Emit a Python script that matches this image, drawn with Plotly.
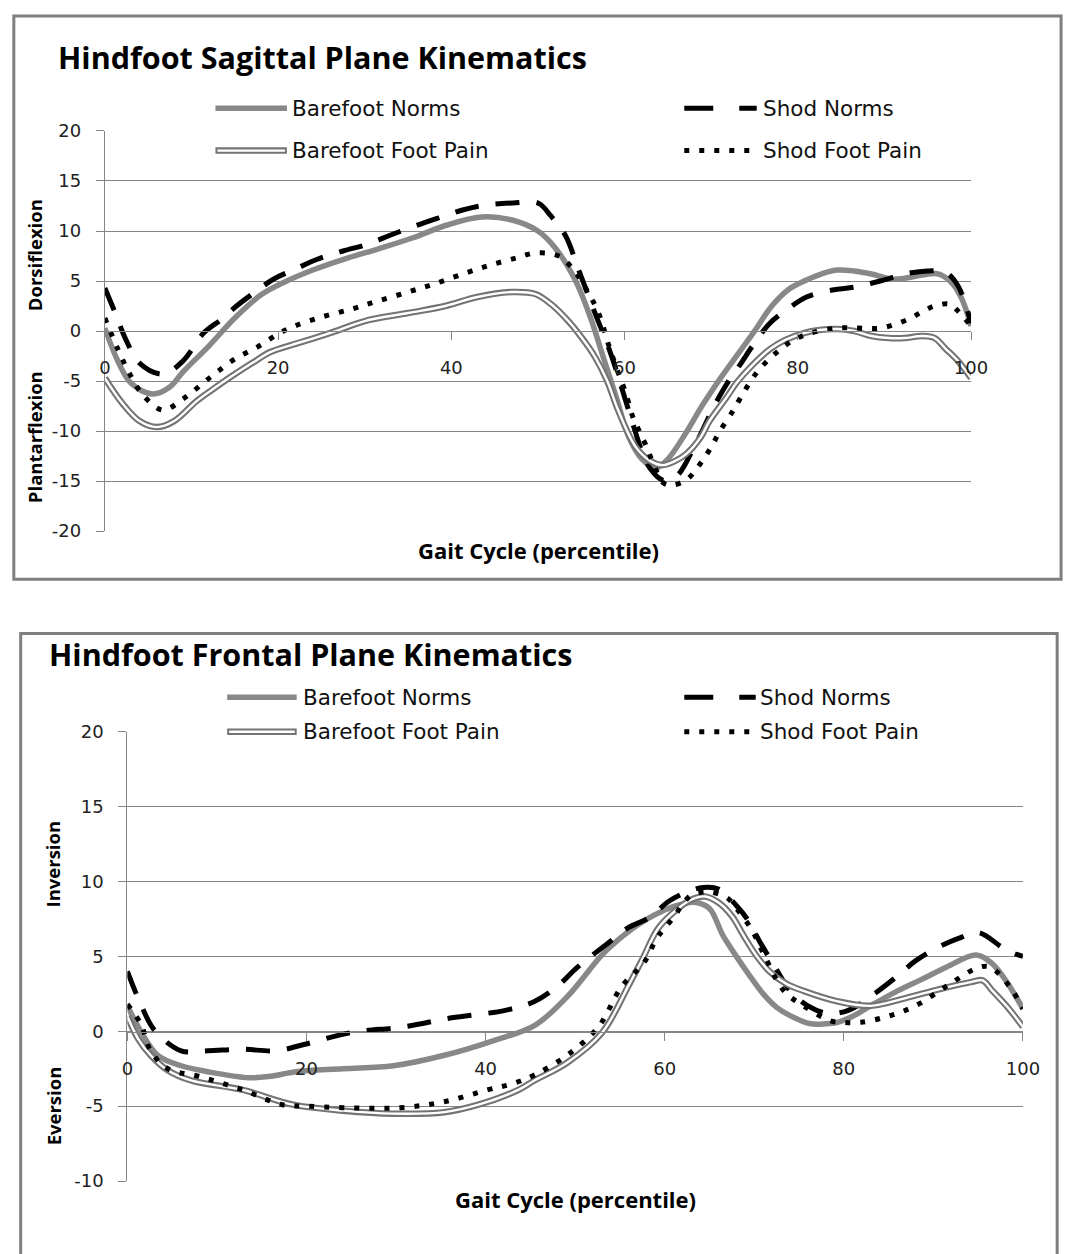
import plotly.graph_objects as go

W, H = 1082, 1254

# ---------------- data : Hindfoot Sagittal Plane ----------------
sag_bn_x = [0, 1.5, 3, 5.5, 7.5, 9, 12, 15, 18, 21, 24, 28, 31.5, 35.5, 39.5, 43.5, 47, 50, 52,
            54.3, 56, 57.5, 59, 60.5, 62, 63.6, 65, 67, 69, 71, 73, 75, 77, 79, 81, 83, 84.6,
            86.5, 88.5, 90.8, 92.5, 94.4, 96.3, 97.9, 99, 100]
sag_bn_y = [0.3, -3.0, -5.2, -6.3, -5.6, -4.1, -1.5, 1.3, 3.6, 5.0, 6.1, 7.3, 8.2, 9.3, 10.6, 11.4,
            11.1, 10.0, 8.3, 5.1, 1.5, -2.5, -6.5, -10.6, -12.8, -13.7, -12.8, -10.3, -7.4, -4.8,
            -2.4, 0.0, 2.5, 4.2, 5.1, 5.8, 6.1, 6.0, 5.7, 5.2, 5.3, 5.6, 5.7, 4.7, 3.1, 0.5]

sag_sn_x = [0, 1.2, 2.4, 4, 6.7, 9, 11.4, 13.5, 15.2, 17.5, 19.5, 22, 24.6, 27.5, 30.4, 33, 35.8,
            38.5, 41.3, 44, 47.1, 50, 51.5, 53.2, 54.7, 56.5, 58.5, 60.5, 62, 63, 64.4, 66, 68.2,
            70.4, 72, 73.3, 75, 76.8, 79, 81, 84, 86.6, 89.5, 92.3, 95, 97, 98.5, 100]
sag_sn_y = [4.3, 1.8, -0.8, -3.2, -4.3, -3.0, -0.2, 1.2, 2.5, 4.0, 5.2, 6.2, 7.2, 8.0, 8.7, 9.6,
            10.5, 11.3, 12.1, 12.6, 12.8, 12.8, 11.5, 9.5, 6.1, 2.0, -2.5, -8.0, -12.0, -13.8,
            -14.9, -14.5, -11.3, -7.4, -5.0, -3.4, -1.2, 0.8, 2.3, 3.4, 4.1, 4.4, 5.0, 5.7, 6.0,
            5.9, 4.5, 0.8]

sag_bfp_x = [0, 2, 4, 6, 8, 10.6, 12.5, 14.5, 17, 19.1, 21.5, 23.8, 27, 30, 35, 39.3, 43, 47,
             49.7, 51.5, 53.5, 55, 56.6, 58, 59.3, 61.3, 63, 64.4, 65.8, 67.1, 68.8, 69.8, 71.8,
             73, 75, 76.8, 78.5, 80.7, 82.5, 84.6, 86.5, 88.5, 90.5, 92.3, 94.4, 95.8, 97.1,
             98.5, 100]
sag_bfp_y = [-4.7, -7.2, -9.0, -9.6, -9.0, -7.0, -5.8, -4.6, -3.2, -2.1, -1.4, -0.8, 0.1, 1.0,
             1.8, 2.5, 3.4, 3.9, 3.7, 2.7, 1.0, -0.6, -2.6, -5.0, -8.0, -11.6, -13.0, -13.4,
             -13.0, -12.3, -10.6, -9.0, -6.6, -5.1, -3.2, -1.8, -0.9, -0.2, 0.1, 0.2, 0.0, -0.5,
             -0.7, -0.7, -0.5, -0.7, -1.8, -3.0, -4.7]

sag_sfp_x = [0, 1.5, 3, 4.5, 6.7, 9, 12.2, 15, 17.6, 20, 21.9, 25, 28.5, 31.5, 35, 38, 41.3, 44.5,
             47.5, 49.7, 52.4, 54.3, 55.7, 57, 58.2, 59.2, 60.1, 61, 61.7, 62.5, 63.3, 64.5, 65.5,
             67.1, 68.2, 69.1, 70, 71, 72.5, 73.3, 75.3, 77.6, 79.5, 81.5, 84.6, 87, 89.6, 92.8,
             94.5, 95.8, 97.5, 98.5, 100]
sag_sfp_y = [1.3, -1.8, -4.5, -6.5, -7.9, -6.8, -4.6, -2.8, -1.6, -0.3, 0.5, 1.4, 2.2, 3.0, 3.9,
             4.7, 5.7, 6.6, 7.3, 7.8, 7.5, 5.9, 4.0, 1.8, -1.5, -4.0, -6.1, -8.7, -10.0, -11.5,
             -13.2, -15.2, -15.4, -14.9, -13.9, -12.8, -11.6, -10.0, -8.0, -6.8, -4.1, -2.1,
             -0.9, -0.2, 0.3, 0.3, 0.3, 1.2, 2.0, 2.5, 2.7, 2.0, 0.5]

# ---------------- data : Hindfoot Frontal Plane ----------------
fro_bn_x = [0, 1.5, 3.4, 6, 9, 13.6, 16, 18.8, 24.1, 29.7, 35.4, 41, 45.5, 49.1, 53, 55, 57.5,
            60, 62, 63.5, 65, 66.5, 68, 69.5, 71, 72.5, 74.5, 76.3, 78, 79.3, 81, 83, 86, 88.8,
            91.5, 94.8, 96.6, 98.3, 100]
fro_bn_y = [1.7, 0.0, -1.6, -2.3, -2.7, -3.1, -3.0, -2.7, -2.5, -2.3, -1.6, -0.6, 0.4, 2.3, 5.1,
            6.2, 7.3, 8.1, 8.5, 8.6, 8.2, 6.4, 5.0, 3.7, 2.5, 1.6, 0.9, 0.5, 0.5, 0.6, 1.0, 1.7,
            2.7, 3.5, 4.3, 5.1, 4.5, 3.2, 1.5]

fro_sn_x = [0, 1.5, 3, 6, 9, 12.8, 16.6, 19.6, 24.9, 30.9, 36.2, 42.2, 45.5, 48, 50.3, 53.7,
            55.9, 58.3, 60.5, 62.5, 64.3, 66, 68, 69.2, 70.6, 72.5, 74, 76, 78.2, 80.5, 83.4, 86,
            88, 90.5, 92.8, 95, 97.7, 99, 100]
fro_sn_y = [4.0, 1.8, 0.1, -1.3, -1.3, -1.2, -1.3, -0.9, -0.1, 0.3, 0.9, 1.4, 2.0, 3.0, 4.3,
            5.9, 6.9, 7.6, 8.7, 9.3, 9.6, 9.5, 8.4, 7.5, 6.0, 4.1, 2.7, 1.7, 1.2, 1.4, 2.5, 3.7,
            4.7, 5.6, 6.2, 6.6, 5.6, 5.2, 5.0]

fro_bfp_x = [0, 1.2, 2.6, 4.5, 7.2, 12.8, 18.5, 24.1, 29.7, 35.4, 39.2, 43.7, 45.4, 49.1, 53,
             56, 57.5, 59.3, 61.5, 63, 64.5, 66, 67.5, 68.8, 70.3, 71.7, 73.5, 75.5, 79.3, 83,
             86.8, 90.6, 94.3, 95.5, 96.6, 98.3, 100]
fro_bfp_y = [1.0, -0.5, -1.6, -2.6, -3.3, -3.9, -4.9, -5.3, -5.5, -5.4, -4.9, -3.9, -3.3, -2.1,
             -0.1, 3.1, 4.8, 6.9, 8.2, 8.8, 9.0, 8.6, 7.7, 6.4, 5.0, 4.0, 3.2, 2.7, 2.0, 1.7,
             2.2, 2.8, 3.3, 3.4, 2.7, 1.6, 0.3]

fro_sfp_x = [0, 1.5, 2.6, 4.5, 7.9, 12.8, 17.3, 20, 24.1, 30.5, 35.4, 40.3, 43, 45.5, 49.1,
             52.6, 55.2, 57.7, 59.1, 60, 61, 61.9, 63, 65, 67, 68, 69.7, 71.1, 73.3, 75.5, 78.5,
             80, 81.9, 84.9, 88, 91.7, 94.8, 96.3, 98.5, 100]
fro_sfp_y = [1.8, 0.5, -1.3, -2.5, -3.0, -3.9, -4.9, -5.0, -5.1, -5.1, -4.7, -3.9, -3.5, -2.9,
             -1.6, 0.3, 3.0, 4.6, 6.2, 6.9, 7.6, 8.4, 9.1, 9.3, 8.9, 8.2, 6.8, 5.1, 2.7, 1.7, 0.7,
             0.6, 0.6, 1.0, 1.7, 3.1, 4.2, 4.3, 3.0, 1.5]

series_names = ["Barefoot Norms", "Shod Norms", "Barefoot Foot Pain", "Shod Foot Pain"]
x_ticks = [0, 20, 40, 60, 80, 100]
sag_y_ticks = [-20, -15, -10, -5, 0, 5, 10, 15, 20]
fro_y_ticks = [-10, -5, 0, 5, 10, 15, 20]


# ---------------- styling ----------------
def fx(p):
    return p / W


def fy(p):
    return 1 - p / H


def hyphen_labels(vals):
    return [str(v) for v in vals]


GRID = "#868686"
STY = {
    "bn": dict(color="#888888", width=5.5),
    "sn": dict(color="#000000", width=5, dash="24px,17px"),
    "bfp_out": dict(color="#737373", width=6.5),
    "bfp_in": dict(color="#ffffff", width=2.4),
    "sfp": dict(color="#000000", width=5, dash="5px,10px"),
}
LEG_STY = dict(STY)
LEG_STY["sn"] = dict(color="#000000", width=5, dash="29px,26px")

fig = go.Figure()


def add_panel(xa, ya, bn, sn, bfp, sfp):
    common = dict(mode="lines", xaxis=xa, yaxis=ya, showlegend=False, hoverinfo="skip")
    fig.add_trace(go.Scatter(x=bn[0], y=bn[1], name=series_names[0],
                             line=dict(**STY["bn"], shape="spline", smoothing=1), **common))
    fig.add_trace(go.Scatter(x=sn[0], y=sn[1], name=series_names[1],
                             line=dict(**STY["sn"], shape="spline", smoothing=1), **common))
    fig.add_trace(go.Scatter(x=bfp[0], y=bfp[1], name=series_names[2],
                             line=dict(**STY["bfp_out"], shape="spline", smoothing=1), **common))
    fig.add_trace(go.Scatter(x=bfp[0], y=bfp[1], name=series_names[2],
                             line=dict(**STY["bfp_in"], shape="spline", smoothing=1), **common))
    fig.add_trace(go.Scatter(x=sfp[0], y=sfp[1], name=series_names[3],
                             line=dict(**STY["sfp"], shape="spline", smoothing=1), **common))


add_panel("x", "y", (sag_bn_x, sag_bn_y), (sag_sn_x, sag_sn_y),
          (sag_bfp_x, sag_bfp_y), (sag_sfp_x, sag_sfp_y))
add_panel("x2", "y2", (fro_bn_x, fro_bn_y), (fro_sn_x, fro_sn_y),
          (fro_bfp_x, fro_bfp_y), (fro_sfp_x, fro_sfp_y))

TICKFONT = dict(family="DejaVu Sans", size=18, color="#222222")
LABFONT = "Open Sans"

xcommon = dict(range=[0, 100], tickvals=x_ticks, ticktext=hyphen_labels(x_ticks), anchor="free",
               showline=True, linecolor=GRID, linewidth=1, ticks="outside", ticklen=8,
               tickcolor=GRID, showgrid=False, zeroline=False, tickfont=TICKFONT,
               ticklabelstandoff=13, fixedrange=True)
ycommon = dict(showline=True, linecolor=GRID, linewidth=1, ticks="outside", ticklen=8,
               tickcolor=GRID, showgrid=True, gridcolor=GRID, gridwidth=1, zeroline=False,
               tickfont=TICKFONT, ticklabelstandoff=11, fixedrange=True)

fig.update_layout(
    width=W, height=H, margin=dict(l=0, r=0, t=0, b=0), autosize=False,
    paper_bgcolor="white", plot_bgcolor="white", showlegend=False,
    xaxis=dict(domain=[fx(101), fx(986)], position=fy(325), **xcommon),
    yaxis=dict(domain=[fy(529), fy(122)], range=[-20, 20], tickvals=sag_y_ticks,
               ticktext=hyphen_labels(sag_y_ticks), anchor="x", **ycommon),
    xaxis2=dict(domain=[fx(124), fx(1039)], position=fy(1038), **xcommon),
    yaxis2=dict(domain=[fy(1190), fy(733)], range=[-10, 20], tickvals=fro_y_ticks,
                ticktext=hyphen_labels(fro_y_ticks), anchor="x2", **ycommon),
)

shapes = []
annotations = []

# chart borders
shapes.append(dict(type="rect", xref="paper", yref="paper", x0=fx(8), x1=fx(1078), y0=fy(578),
                   y1=fy(5), line=dict(color="#7f7f7f", width=3)))
shapes.append(dict(type="rect", xref="paper", yref="paper", x0=fx(15), x1=fx(1074), y0=fy(1275),
                   y1=fy(633), line=dict(color="#7f7f7f", width=3)))

# hide the top gridline (Excel shows none there)
for xa, ya, top in (("x", "y", 20), ("x2", "y2", 20)):
    shapes.append(dict(type="line", xref=xa, yref=ya, x0=0.15, x1=100, y0=top, y1=top,
                       layer="between", line=dict(color="white", width=2)))


def legend(rows_y, col_x):
    items = [(0, 0, "bn"), (1, 0, "sn"), (0, 1, "bfp"), (1, 1, "sfp")]
    for name, (ci, ri, key) in zip(series_names, items):
        x0, x1, tx = col_x[ci]
        y = fy(rows_y[ri])
        if key == "bfp":
            shapes.append(dict(type="line", xref="paper", yref="paper", x0=fx(x0), x1=fx(x1),
                               y0=y, y1=y, line=LEG_STY["bfp_out"]))
            shapes.append(dict(type="line", xref="paper", yref="paper", x0=fx(x0 + 2),
                               x1=fx(x1 - 2), y0=y, y1=y, line=LEG_STY["bfp_in"]))
        else:
            shapes.append(dict(type="line", xref="paper", yref="paper", x0=fx(x0), x1=fx(x1),
                               y0=y, y1=y, line=LEG_STY[key]))
        annotations.append(dict(text=name, xref="paper", yref="paper", x=fx(tx), y=y,
                                xanchor="left", yanchor="middle", showarrow=False,
                                font=dict(family="DejaVu Sans", size=21.5, color="#111111")))


legend([99, 142], [(214, 287, 290), (693, 767, 771)])
legend([698, 733], [(226, 297, 301), (693, 766, 768)])


def text(t, x, y, size, bold=True, angle=0, anchor="center"):
    annotations.append(dict(text=f"<b>{t}</b>" if bold else t, xref="paper", yref="paper",
                            x=fx(x), y=fy(y), xanchor=anchor, yanchor="middle",
                            showarrow=False, textangle=angle,
                            font=dict(family=LABFONT, size=size, color="#000000")))


text("Hindfoot Sagittal Plane Kinematics", 51, 47, 30.5, anchor="left")
text("Hindfoot Frontal Plane Kinematics", 42, 654, 30.5, anchor="left")
text("Gait Cycle (percentile)", 544, 548, 22)
text("Gait Cycle (percentile)", 582, 1208, 22)
text("Dorsiflexion", 29, 248, 18.5, angle=-90)
text("Plantarflexion", 29, 433, 18.5, angle=-90)
text("Inversion", 48, 867, 18.5, angle=-90)
text("Eversion", 48, 1113, 18.5, angle=-90)

fig.update_layout(shapes=shapes, annotations=annotations)

fig.write_html("out.html", config={"responsive": False, "displayModeBar": False})
